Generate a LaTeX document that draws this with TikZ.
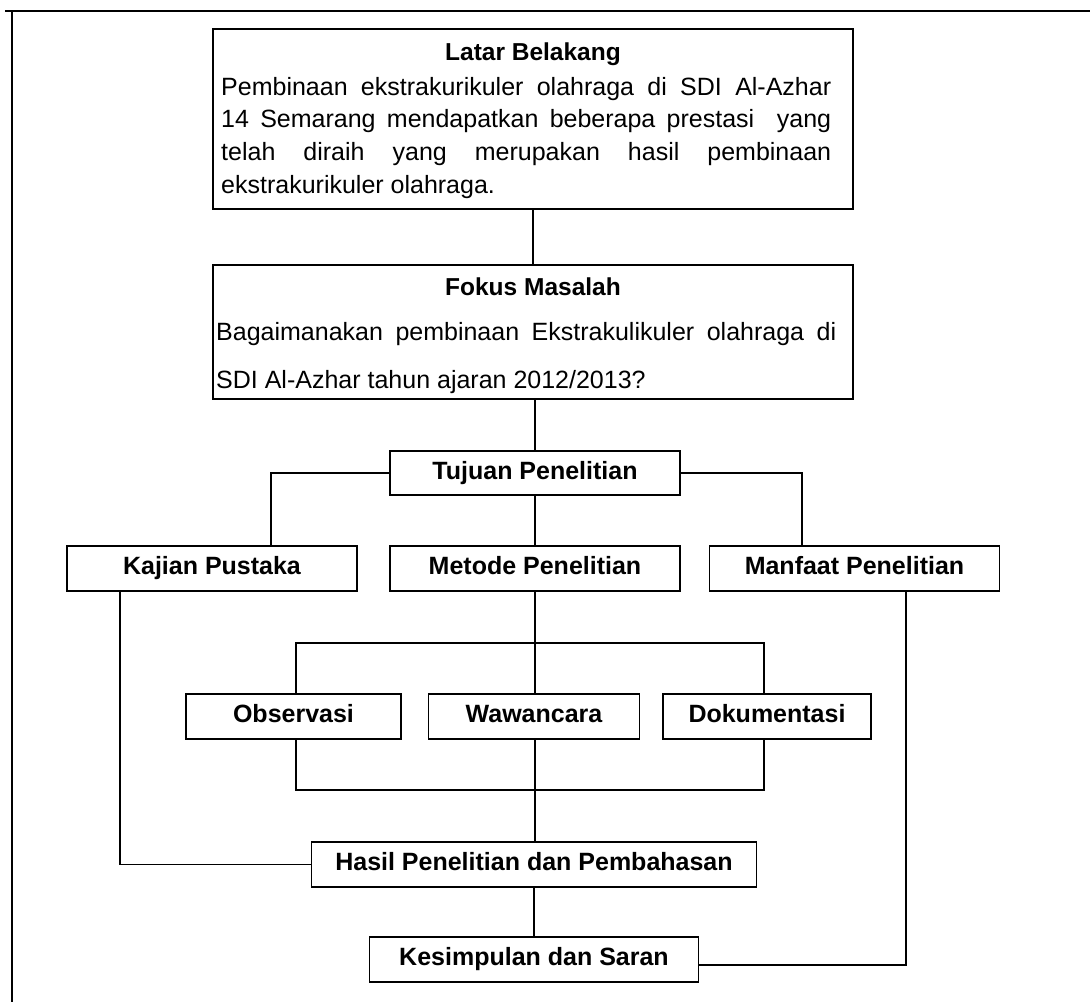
\documentclass[tikz,border=0pt]{standalone}
\usepackage{fontspec}
\setmainfont{Liberation Sans}
\tikzset{
  box/.style={draw, line width=1.5pt, inner sep=0pt, align=center,
    text height=18pt, text depth=5.5pt,
    font={\fontsize{25}{30}\selectfont\bfseries}},
  ttl/.style={inner sep=0pt, font={\fontsize{24.5}{30}\selectfont\bfseries}},
  bodytxt/.style={inner sep=0pt, align=justify},
  conn/.style={line width=1.4pt},
  frame/.style={line width=2pt}
}
\begin{document}
\begin{tikzpicture}[x=1pt,y=-1pt]
\useasboundingbox (0,0) rectangle (1090,1002);
% frame
\coordinate (fTL) at (12,11);
\coordinate (fTLx) at (5,11);
\coordinate (fTR) at (1090,11);
\coordinate (fBL) at (12,1002);
\draw[frame] (fTLx) -- (fTR);
\draw[frame] (fTL) -- (fBL);

% Latar Belakang
\node[box, minimum width=640pt, minimum height=180pt] (latar) at (533,119) {};
\node[ttl, anchor=base] (latarT) at (533,60) {Latar Belakang};
\node[bodytxt, text width=610pt, anchor=base west,
  font={\fontsize{25}{32.7}\selectfont}] (latarB) at (221,95)
  {\hyphenpenalty=10000 Pembinaan ekstrakurikuler olahraga di SDI Al-Azhar\linebreak
   14 Semarang mendapatkan beberapa prestasi\ \ yang\linebreak
   telah diraih yang merupakan hasil pembinaan\linebreak
   ekstrakurikuler olahraga.};

% Fokus Masalah
\node[box, minimum width=640pt, minimum height=134pt] (fokus) at (533,332) {};
\node[ttl, anchor=base] (fokusT) at (533,295) {Fokus Masalah};
\node[bodytxt, text width=620pt, anchor=base west,
  font={\fontsize{25}{48}\selectfont}] (fokusB) at (216,340)
  {\hyphenpenalty=10000 Bagaimanakan pembinaan Ekstrakulikuler olahraga di\linebreak
   SDI Al-Azhar tahun ajaran 2012/2013?};

% second level
\node[box, minimum width=290pt, minimum height=44pt] (tujuan) at (535,473) {Tujuan Penelitian};
\node[box, minimum width=290pt, minimum height=45pt] (kajian) at (212,568.5) {Kajian Pustaka};
\node[box, minimum width=290pt, minimum height=45pt] (metode) at (535,568.5) {Metode Penelitian};
\node[box, minimum width=290pt, minimum height=45pt] (manfaat) at (854.5,568.5) {Manfaat Penelitian};

\node[box, minimum width=215pt, minimum height=45pt] (obs) at (293.5,716.5) {Observasi};
\node[box, minimum width=211pt, minimum height=45pt] (waw) at (534,716.5) {Wawancara};
\node[box, minimum width=208pt, minimum height=45pt] (dok) at (767,716.5) {Dokumentasi};

\node[box, minimum width=445pt, minimum height=45pt] (hasil) at (534,864.5) {Hasil Penelitian dan Pembahasan};
\node[box, minimum width=329pt, minimum height=45pt] (kes) at (534,959.5) {Kesimpulan dan Saran};

% column / row helpers
\coordinate (cL) at (271,0);
\coordinate (cR) at (802,0);
\coordinate (cK) at (120,0);
\coordinate (cM) at (906,0);
\coordinate (cO) at (296,0);
\coordinate (cD) at (764,0);
\coordinate (rTop) at (0,643);
\coordinate (rBot) at (0,790);
\coordinate (rKes) at (0,965);

% connectors
\draw[conn] (latar.south -| latarT) -- (fokus.north -| latarT);
\draw[conn] (fokus.south -| tujuan) -- (tujuan.north);
\draw[conn] (tujuan.west) -| (kajian.north -| cL);
\draw[conn] (tujuan.east) -| (manfaat.north -| cR);
\draw[conn] (tujuan.south) -- (metode.north);
\draw[conn] (metode.south) -- (waw.north -| metode);
\draw[conn] (obs.north -| cO) -- (rTop -| cO) -- (rTop -| cD) -- (dok.north -| cD);
\draw[conn] (obs.south -| cO) -- (rBot -| cO) -- (rBot -| cD) -- (dok.south -| cD);
\draw[conn] (waw.south -| metode) -- (hasil.north -| metode);
\draw[conn] (kajian.south -| cK) |- (hasil.west);
\draw[conn] (hasil.south) -- (kes.north);
\draw[conn] (manfaat.south -| cM) -- (rKes -| cM) -- (rKes -| kes.east);
\end{tikzpicture}
\end{document}
